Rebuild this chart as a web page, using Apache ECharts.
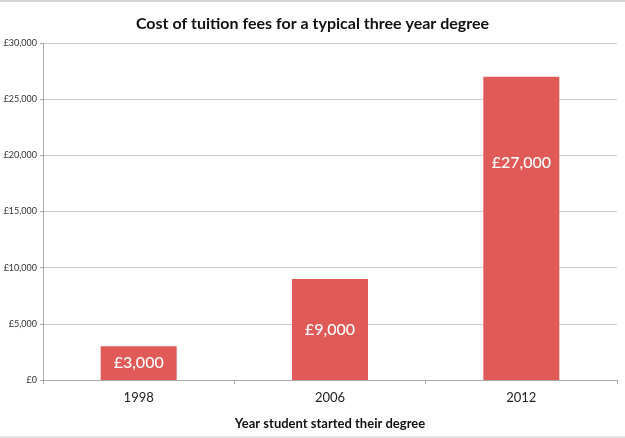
<!DOCTYPE html>
<html>
<head>
<meta charset="utf-8">
<script src="https://cdn.jsdelivr.net/npm/echarts@6/dist/echarts.min.js"></script>
<style>
html,body{margin:0;padding:0;background:#fff;}
#chart{width:625px;height:438px;}
</style>
</head>
<body>
<div id="chart"></div>
<script>
// data
var years = ['1998', '2006', '2012'];
var fees = [3000, 9000, 27000];
var chartTitle = 'Cost of tuition fees for a typical three year degree';
var xTitle = 'Year student started their degree';

var fontFam = 'Lato, "Open Sans", sans-serif';

function money(v) {
  return '£' + String(v).replace(/\B(?=(\d{3})+(?!\d))/g, ',');
}

var barData = [];
for (var i = 0; i < fees.length; i++) {
  var item = {value: fees[i]};
  if (i == fees.length - 1) {
    // the big bar has its label sitting higher than centre
    item.label = {offset: [0, -66]};
  }
  barData.push(item);
}

var chart = echarts.init(document.getElementById('chart'));
chart.setOption({
  animation: false,
  backgroundColor: '#fff',
  // thin grey frame strips at top and bottom of the screenshot
  graphic: [
    {type: 'rect', left: 0, top: 0, shape: {width: 625, height: 2}, style: {fill: '#d4d4d4'}, silent: true},
    {type: 'rect', left: 0, bottom: 0, shape: {width: 625, height: 2}, style: {fill: '#e4e4e4'}, silent: true}
  ],
  title: {
    text: chartTitle,
    left: 'center',
    top: 11,
    textStyle: {fontFamily: fontFam, fontSize: 16, fontWeight: 'bold', color: '#111'}
  },
  grid: {left: 43, right: 8, top: 43, bottom: 58},
  xAxis: {
    type: 'category',
    data: years,
    name: xTitle,
    nameLocation: 'middle',
    nameGap: 37,
    nameTextStyle: {fontFamily: fontFam, fontSize: 13, fontWeight: 'bold', color: '#111'},
    axisLine: {lineStyle: {color: '#aaa', width: 1}},
    axisTick: {show: true, alignWithLabel: false, length: 4, lineStyle: {color: '#aaa'}},
    axisLabel: {fontFamily: fontFam, fontSize: 13, color: '#222', margin: 11}
  },
  yAxis: {
    type: 'value',
    min: 0,
    max: 30000,
    interval: 5000,
    axisLine: {show: true, lineStyle: {color: '#aaa'}},
    axisTick: {show: true, length: 3, lineStyle: {color: '#aaa'}},
    axisLabel: {fontFamily: fontFam, fontSize: 9, color: '#333', margin: 6, formatter: money},
    splitLine: {lineStyle: {color: '#c8c8c8', width: 1}}
  },
  series: [{
    type: 'bar',
    data: barData,
    barWidth: 76,
    itemStyle: {color: '#e05b57'},
    label: {
      show: true,
      position: 'inside',
      color: '#fff',
      fontFamily: fontFam,
      fontSize: 16,
      fontWeight: 500,
      formatter: function (p) { return money(p.value); }
    }
  }]
});
</script>
</body>
</html>
